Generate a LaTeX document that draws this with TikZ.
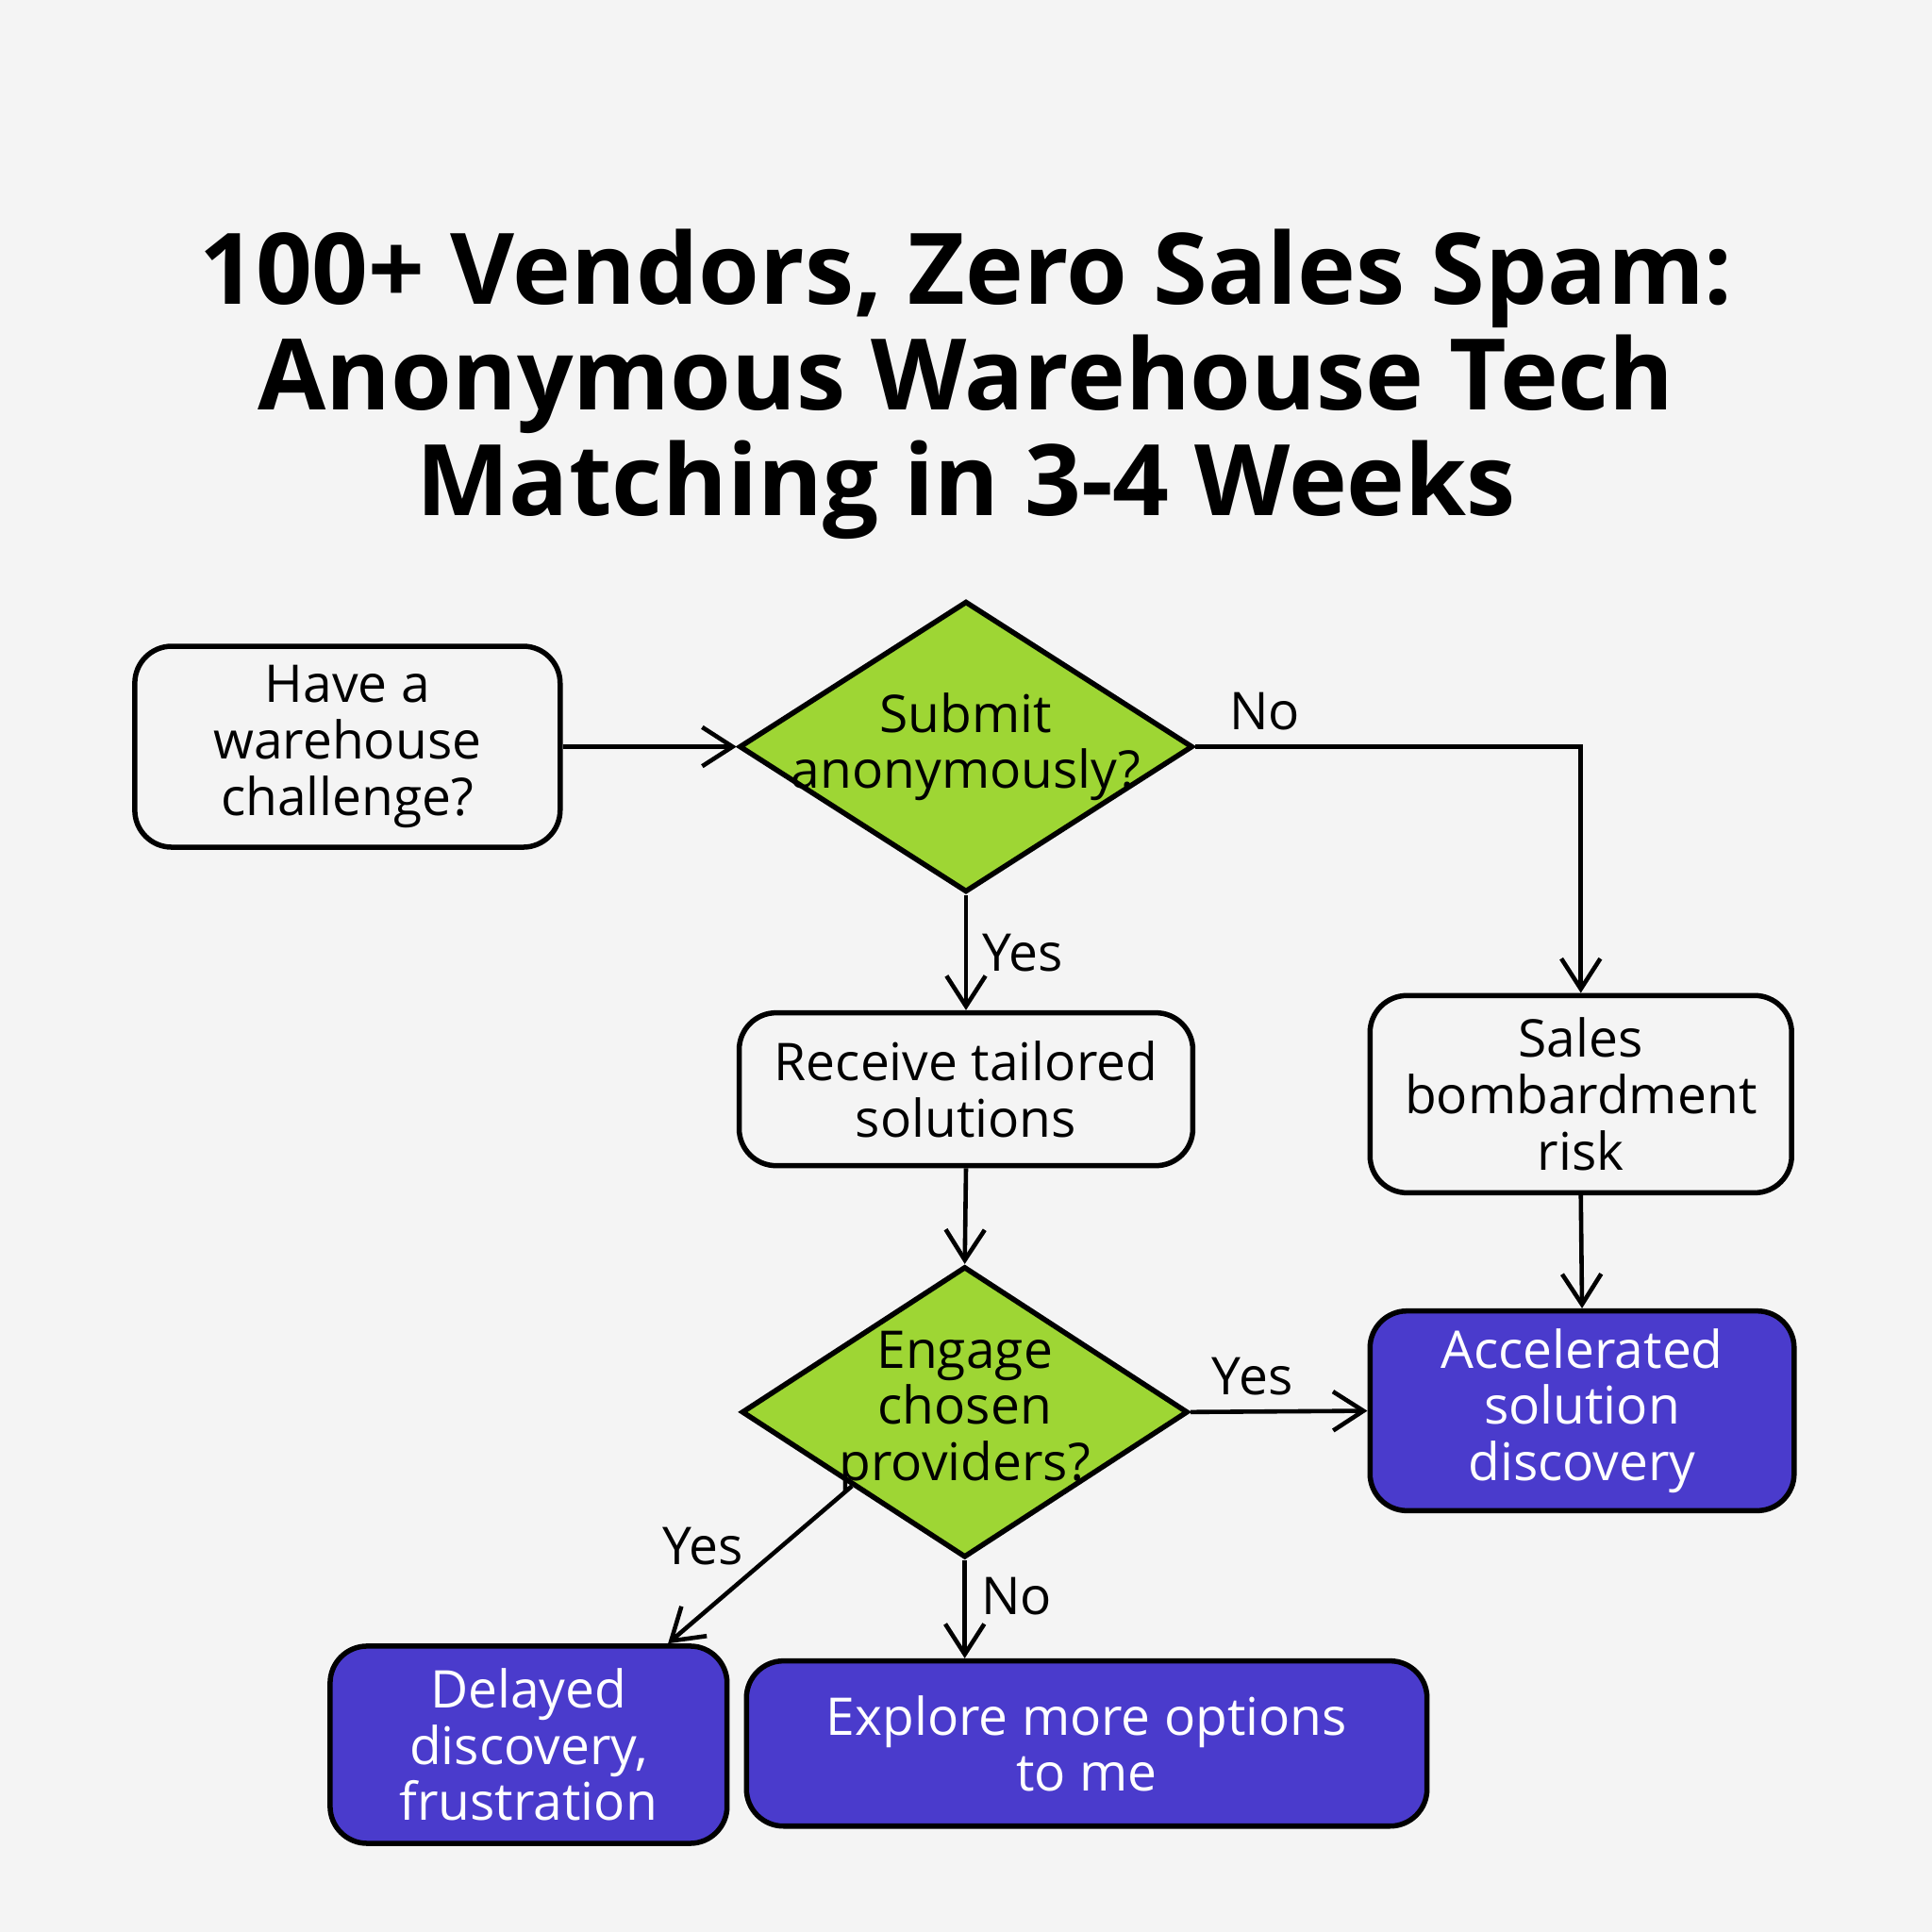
\documentclass[tikz,border=0pt]{standalone}
\usepackage{fontspec}
\setmainfont{Open Sans}
\usetikzlibrary{shapes.geometric,arrows.meta,positioning}
\definecolor{paper}{HTML}{F4F4F4}
\definecolor{leaf}{HTML}{9ED634}
\definecolor{ink}{HTML}{4A3BCC}
\begin{document}
\begin{tikzpicture} [x = 0.01cm, y = -0.01cm,
	box/.style = {draw, line width = 1.2pt, rounded corners = 0.3cm, align = center, inner sep = 0pt, font = \fontsize{12}{13}\selectfont},
	endbox/.style = {box, fill = ink, text = white},
	ask/.style = {diamond, draw, line width = 1.2pt, fill = leaf, inner sep = 0pt},
	asktext/.style = {align = center, font = \fontsize{12}{13}\selectfont},
	flow/.style = {-{Straight Barb[length = 7pt, width = 9pt]}, line width = 1pt},
	tag/.style = {font = \fontsize{12}{13}\selectfont}]
	\fill [paper] (0,0) rectangle (1568,1568);
	% title
	\node (title) at (784,312) [align = center, font = \fontsize{22.8}{24.4}\selectfont\bfseries] {100+ Vendors, Zero Sales Spam:\\Anonymous Warehouse Tech\\Matching in 3-4 Weeks};
	% boxes
	\node (start) at (282,606) [box, minimum width = 3.45cm, minimum height = 1.63cm] {Have a\\warehouse\\challenge?};
	\node (submit) at (784,606) [ask, minimum width = 3.68cm, minimum height = 2.36cm] {};
	\node at (submit.center) [asktext] {Submit\\anonymously?};
	\node (receive) at (784,884) [box, minimum width = 3.68cm, minimum height = 1.24cm] {Receive tailored\\solutions};
	\node (risk) at (1283,888) [box, minimum width = 3.42cm, minimum height = 1.6cm] {Sales\\bombardment\\risk};
	\node (engage) at (783,1146) [ask, minimum width = 3.62cm, minimum height = 2.36cm] {};
	\node at (engage.center) [asktext] {Engage\\chosen\\providers?};
	\node (fast) at (1284,1145) [endbox, minimum width = 3.44cm, minimum height = 1.62cm] {Accelerated\\solution\\discovery};
	\node (slow) at (429,1416) [endbox, minimum width = 3.22cm, minimum height = 1.6cm] {Delayed\\discovery,\\frustration};
	\node (more) at (882,1415) [endbox, minimum width = 5.52cm, minimum height = 1.34cm] {Explore more options\\to me};
	% arrows
	\draw [flow] (start.east) -- (submit.west);
	\draw [flow] (submit.east) -| node [tag, pos = 0.09, above] {No} (risk.north);
	\draw [flow] (submit.south) -- node [tag, right] {Yes} (receive.north);
	\draw [flow] (receive.south) -- (engage.north);
	\draw [flow] (risk.south) -- (fast.north);
	\draw [flow] (engage.east) -- node [tag, pos = 0.35, above] {Yes} (fast.west);
	\draw [flow] (engage.south west) -- node [tag, above left, yshift = -4pt] {Yes} ([xshift = -0.5cm] slow.north east);
	\draw [flow] (engage.south) -- node [tag, right, yshift = 3pt] {No} (engage.south |- more.north);
\end{tikzpicture}
\end{document}
